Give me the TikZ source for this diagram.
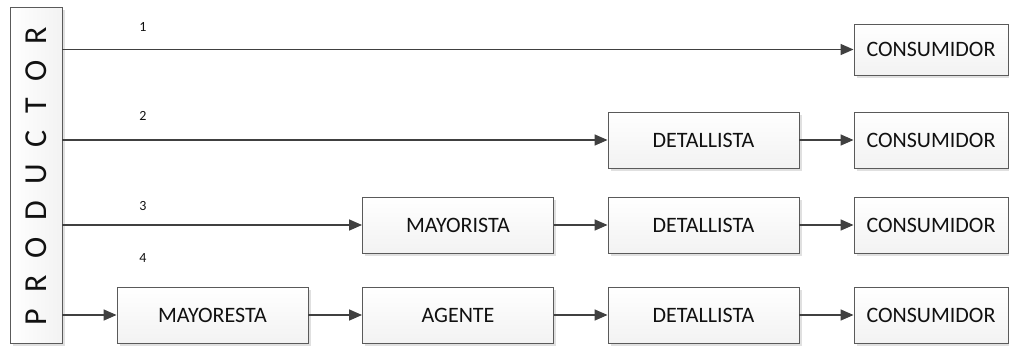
\documentclass[tikz,border=0pt]{standalone}
\usepackage{fontspec}
\setmainfont{Carlito}
\usetikzlibrary{arrows.meta,shadows}
\definecolor{edge}{HTML}{5A5A5A}
\definecolor{wire}{HTML}{404040}
\definecolor{ink}{HTML}{111111}
\tikzset{
  boxbase/.style={draw=edge, line width=0.9pt, inner sep=0pt, text=ink,
    drop shadow={shadow xshift=2.5pt, shadow yshift=-3pt, fill=black!20, opacity=0.6}},
  stage/.style={boxbase, top color=white, bottom color=black!5,
    minimum width=191pt, minimum height=56pt,
    font=\fontsize{22}{24}\selectfont},
  flow/.style={draw=wire, line width=1.5pt, -{Triangle[length=13pt,width=11pt]}},
  tag/.style={font=\fontsize{14}{16}\selectfont, text=ink}
}
\begin{document}
\begin{tikzpicture}[x=1pt, y=-1pt]
\useasboundingbox (0,0) rectangle (1009,346);

% producer column
\node[boxbase, minimum width=52pt, minimum height=336pt, left color=white, right color=black!5]
  (prod) at (36,175) {};
\node[rotate=90, font=\fontsize{32}{34}\selectfont\addfontfeature{LetterSpace=52}, text=ink]
  (prodtext) at (36,176) {PRODUCTOR};

% route 1
\node[stage, minimum width=154pt, minimum height=51pt] (c1) at (931,49.5) {CONSUMIDOR};
% route 2
\node[stage] (d2) at (703.5,140) {DETALLISTA};
\node[stage, minimum width=154pt] (c2) at (931,140) {CONSUMIDOR};
% route 3
\node[stage] (m3) at (458,225) {MAYORISTA};
\node[stage] (d3) at (703.5,225) {DETALLISTA};
\node[stage, minimum width=154pt] (c3) at (931,225) {CONSUMIDOR};
% route 4
\node[stage] (m4) at (212.5,315) {MAYORESTA};
\node[stage] (a4) at (458,315) {AGENTE};
\node[stage] (d4) at (703.5,315) {DETALLISTA};
\node[stage, minimum width=154pt] (c4) at (931,315) {CONSUMIDOR};

% route numbers
\node[tag] (n1) at (143,27) {1};
\node[tag] (n2) at (143,116) {2};
\node[tag] (n3) at (143,206) {3};
\node[tag] (n4) at (143,258) {4};

% connectors
\draw[flow] (prod.east |- c1.west) -- (c1.west);
\draw[flow] (prod.east |- d2.west) -- (d2.west);
\draw[flow] (d2) -- (c2);
\draw[flow] (prod.east |- m3.west) -- (m3.west);
\draw[flow] (m3) -- (d3);
\draw[flow] (d3) -- (c3);
\draw[flow] (prod.east |- m4.west) -- (m4.west);
\draw[flow] (m4) -- (a4);
\draw[flow] (a4) -- (d4);
\draw[flow] (d4) -- (c4);
\end{tikzpicture}
\end{document}
